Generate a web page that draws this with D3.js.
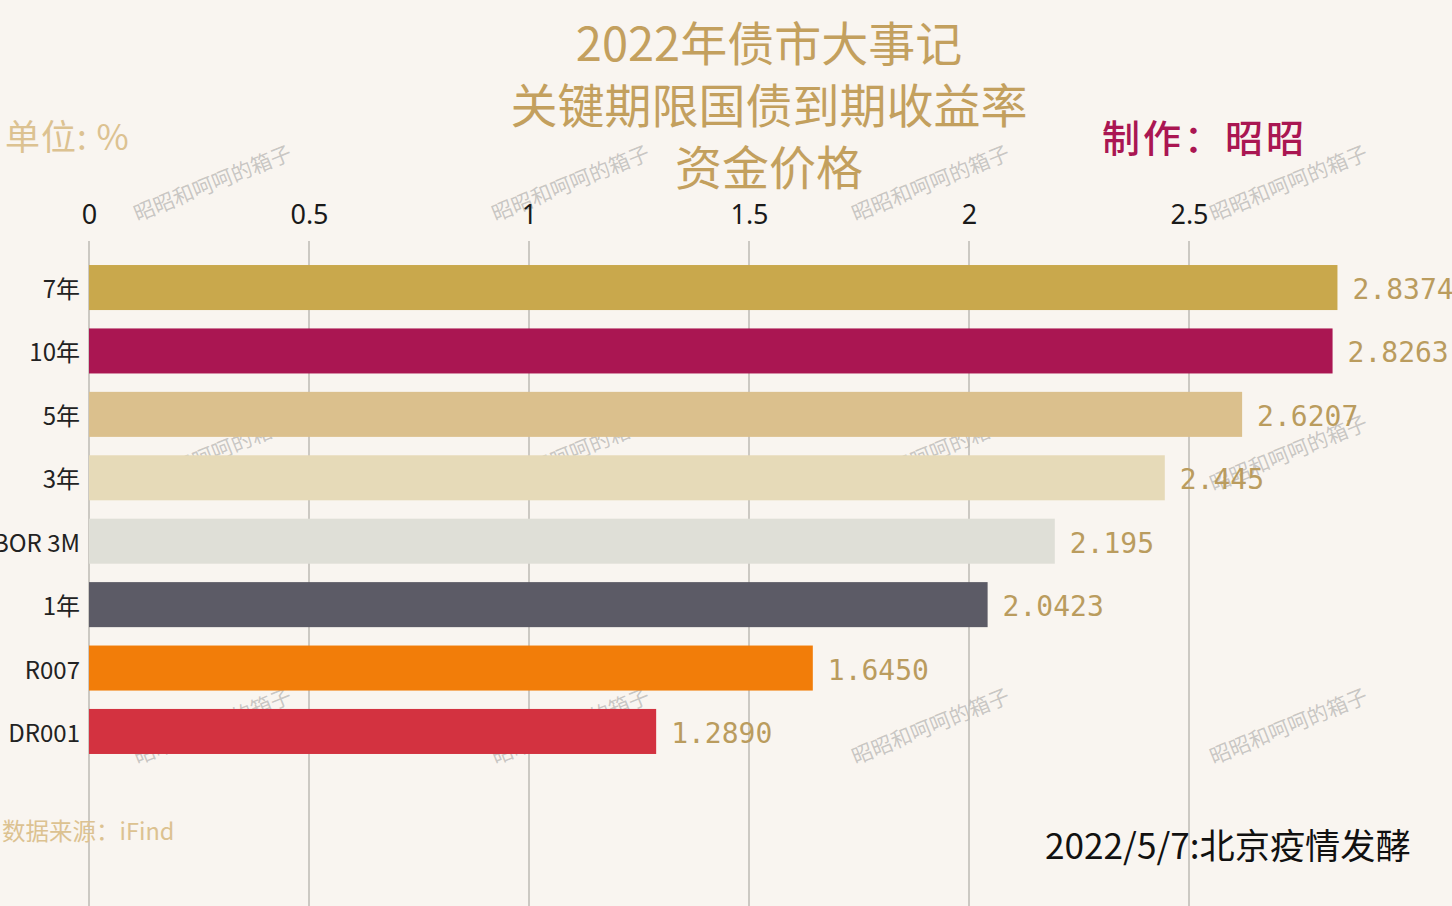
<!DOCTYPE html>
<html>
<head>
<meta charset="utf-8">
<script src="https://cdn.jsdelivr.net/npm/d3@7"></script>
<style>
  html, body { margin: 0; padding: 0; background: #F9F5F0; overflow: hidden; }
  svg { display: block; }
</style>
</head>
<body>
<svg id="chart" width="1452" height="906"></svg>
<script>
// ---- data ----
const categories = ["7年", "10年", "5年", "3年", "SHIBOR 3M", "1年", "R007", "DR001"];
const values = [2.8374, 2.8263, 2.6207, 2.445, 2.195, 2.0423, 1.6450, 1.2890];
const valueLabels = ["2.8374", "2.8263", "2.6207", "2.445", "2.195", "2.0423", "1.6450", "1.2890"];
const barColors = ["#C9A84C", "#AA1652", "#DBC08D", "#E6DAB8", "#DFDFD7", "#5C5B66", "#F27D09", "#D33240"];
const tickValues = [0, 0.5, 1, 1.5, 2, 2.5];
const tickLabels = ["0", "0.5", "1", "1.5", "2", "2.5"];
const titleLines = ["2022年债市大事记", "关键期限国债到期收益率", "资金价格"];
const watermarkText = "昭昭和呵呵的箱子";
const wmX = [212, 570, 930, 1288];
const wmY = [182, 452, 725];

const W = 1452, H = 906;
const svg = d3.select("#chart");
const cjk = "'Noto Sans CJK SC', 'Noto Sans', sans-serif";

svg.append("rect").attr("width", W).attr("height", H).attr("fill", "#F9F5F0");

// scales
const x = d3.scaleLinear().domain([0, 2.5]).range([89, 1189]);
const y = d3.scaleBand().domain(categories).range([246, 773]).paddingInner(0.29).paddingOuter(0.3);

// watermark (behind bars)
const wm = svg.append("g");
wmY.forEach(cy => wmX.forEach(cx => {
  wm.append("text")
    .attr("transform", `translate(${cx},${cy}) rotate(-22)`)
    .attr("text-anchor", "middle")
    .attr("dominant-baseline", "central")
    .attr("font-family", cjk)
    .attr("font-size", 21)
    .attr("fill", "rgba(140,140,140,0.45)")
    .text(watermarkText);
}));

// grid lines
svg.append("g").selectAll("line").data(tickValues).join("line")
  .attr("x1", d => x(d)).attr("x2", d => x(d))
  .attr("y1", 241).attr("y2", H)
  .attr("stroke", "#BDBAB5").attr("stroke-width", 1.5);

// tick labels via axis
const axis = d3.axisTop(x).tickValues(tickValues).tickFormat((d, i) => tickLabels[i]).tickSize(0).tickPadding(0);
const axG = svg.append("g").attr("transform", "translate(0,224)").call(axis);
axG.select(".domain").remove();
axG.selectAll("text")
  .attr("font-family", "'Noto Sans', 'Open Sans', sans-serif")
  .attr("font-size", 27)
  .attr("fill", "#1a1a1a")
  .attr("dy", 0);

// bars
svg.append("g").selectAll("rect").data(categories).join("rect")
  .attr("x", x(0))
  .attr("y", d => y(d))
  .attr("width", (d, i) => x(values[i]) - x(0))
  .attr("height", y.bandwidth())
  .attr("fill", (d, i) => barColors[i]);

// category labels
svg.append("g").selectAll("text").data(categories).join("text")
  .attr("x", 80)
  .attr("y", d => y(d) + y.bandwidth() / 2)
  .attr("text-anchor", "end")
  .attr("dominant-baseline", "central")
  .attr("font-family", cjk)
  .attr("font-size", 24)
  .attr("fill", "#222")
  .text(d => d);

// value labels
svg.append("g").selectAll("text").data(categories).join("text")
  .attr("x", (d, i) => x(values[i]) + 15)
  .attr("y", d => y(d) + y.bandwidth() / 2 + 2)
  .attr("dominant-baseline", "central")
  .attr("font-family", "'DejaVu Sans Mono', monospace")
  .attr("font-size", 28)
  .attr("fill", "#BA9C5E")
  .text((d, i) => valueLabels[i]);

// title
svg.append("g").selectAll("text").data(titleLines).join("text")
  .attr("x", 769)
  .attr("y", (d, i) => 61 + i * 62)
  .attr("text-anchor", "middle")
  .attr("font-family", cjk)
  .attr("font-size", 47)
  .attr("fill", "#C3A05E")
  .text(d => d);

// unit
svg.append("text")
  .attr("x", 5).attr("y", 150)
  .attr("font-family", cjk)
  .attr("font-size", 35)
  .attr("letter-spacing", 1)
  .attr("fill", "#DCC291")
  .text("单位: %");

// author
svg.append("text")
  .attr("x", 1102).attr("y", 152)
  .attr("font-family", cjk)
  .attr("font-size", 38)
  .attr("font-weight", 500)
  .attr("letter-spacing", 3)
  .attr("fill", "#AA1652")
  .text("制作：昭昭");

// source
svg.append("text")
  .attr("x", 2).attr("y", 840)
  .attr("font-family", cjk)
  .attr("font-size", 23.5)
  .attr("fill", "#DCC291")
  .text("数据来源：iFind");

// event
svg.append("text")
  .attr("x", 1045).attr("y", 859)
  .attr("font-family", cjk)
  .attr("font-size", 35.2)
  .attr("fill", "#111")
  .text("2022/5/7:北京疫情发酵");
</script>
</body>
</html>
